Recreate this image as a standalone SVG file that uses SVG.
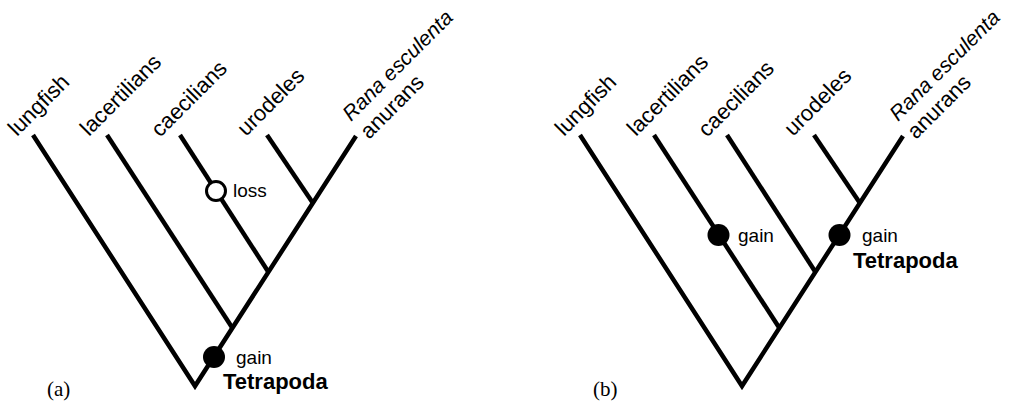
<svg xmlns="http://www.w3.org/2000/svg" width="1015" height="405" viewBox="0 0 1015 405">
<style>
.br{stroke:#000;stroke-width:4.5;fill:none;stroke-linejoin:miter;stroke-miterlimit:10;stroke-linecap:butt}
.lbl{font-family:"Liberation Sans",Arial,sans-serif;font-size:22px;fill:#000}
.it{font-style:italic;font-size:21px}
.ev{font-family:"Liberation Sans",Arial,sans-serif;font-size:19px;fill:#000}
.clade{font-family:"Liberation Sans",Arial,sans-serif;font-size:22px;font-weight:bold;fill:#000}
.panel{font-family:"Liberation Serif","Times New Roman",serif;font-size:21px;fill:#000}
.gain{fill:#000}
.loss{fill:#fff;stroke:#000;stroke-width:3}
</style>
<rect width="1015" height="405" fill="#fff"/>

<g id="panel-a">
  <g id="connectors-a">
    <polyline class="br" points="33,135 195,386 356,136"/>
    <line class="br" x1="107" y1="135" x2="232.4" y2="328"/>
    <line class="br" x1="180" y1="135" x2="268.4" y2="272"/>
    <line class="br" x1="267" y1="135" x2="312.9" y2="203"/>
  </g>
  <g id="a-lungfish"><text class="lbl" transform="translate(17,137) rotate(-45)">lungfish</text></g>
  <g id="a-lacertilians"><text class="lbl" transform="translate(89,137) rotate(-45)">lacertilians</text></g>
  <g id="a-caecilians"><text class="lbl" transform="translate(160,138) rotate(-45)">caecilians</text></g>
  <g id="a-urodeles"><text class="lbl" transform="translate(246,137) rotate(-45)">urodeles</text></g>
  <g id="a-anurans">
    <text class="lbl it" transform="translate(351,122) rotate(-45)">Rana esculenta</text>
    <text class="lbl" transform="translate(369,140) rotate(-45)">anurans</text>
  </g>
  <g id="a-loss">
    <circle class="loss" cx="216" cy="191" r="9.5"/>
    <text class="ev" x="233" y="197">loss</text>
  </g>
  <g id="a-gain">
    <circle class="gain" cx="214" cy="357" r="11"/>
    <text class="ev" x="236" y="364">gain</text>
    <text class="clade" x="223" y="389">Tetrapoda</text>
  </g>
  <text class="panel" x="47" y="396">(a)</text>
</g>

<g id="panel-b" transform="translate(547,0)">
  <g id="connectors-b">
    <polyline class="br" points="33,135 195,386 356,136"/>
    <line class="br" x1="107" y1="135" x2="232.4" y2="328"/>
    <line class="br" x1="180" y1="135" x2="268.4" y2="272"/>
    <line class="br" x1="267" y1="135" x2="312.9" y2="203"/>
  </g>
  <g id="b-lungfish"><text class="lbl" transform="translate(17,137) rotate(-45)">lungfish</text></g>
  <g id="b-lacertilians"><text class="lbl" transform="translate(89,137) rotate(-45)">lacertilians</text></g>
  <g id="b-caecilians"><text class="lbl" transform="translate(160,138) rotate(-45)">caecilians</text></g>
  <g id="b-urodeles"><text class="lbl" transform="translate(246,137) rotate(-45)">urodeles</text></g>
  <g id="b-anurans">
    <text class="lbl it" transform="translate(351,122) rotate(-45)">Rana esculenta</text>
    <text class="lbl" transform="translate(369,140) rotate(-45)">anurans</text>
  </g>
  <g id="b-gain-lacertilians">
    <circle class="gain" cx="171.5" cy="235" r="11"/>
    <text class="ev" x="191" y="242">gain</text>
  </g>
  <g id="b-gain-tetrapoda">
    <circle class="gain" cx="292.5" cy="235" r="11"/>
    <text class="ev" x="315" y="242">gain</text>
    <text class="clade" x="306" y="268">Tetrapoda</text>
  </g>
  <text class="panel" x="46" y="396">(b)</text>
</g>
</svg>
